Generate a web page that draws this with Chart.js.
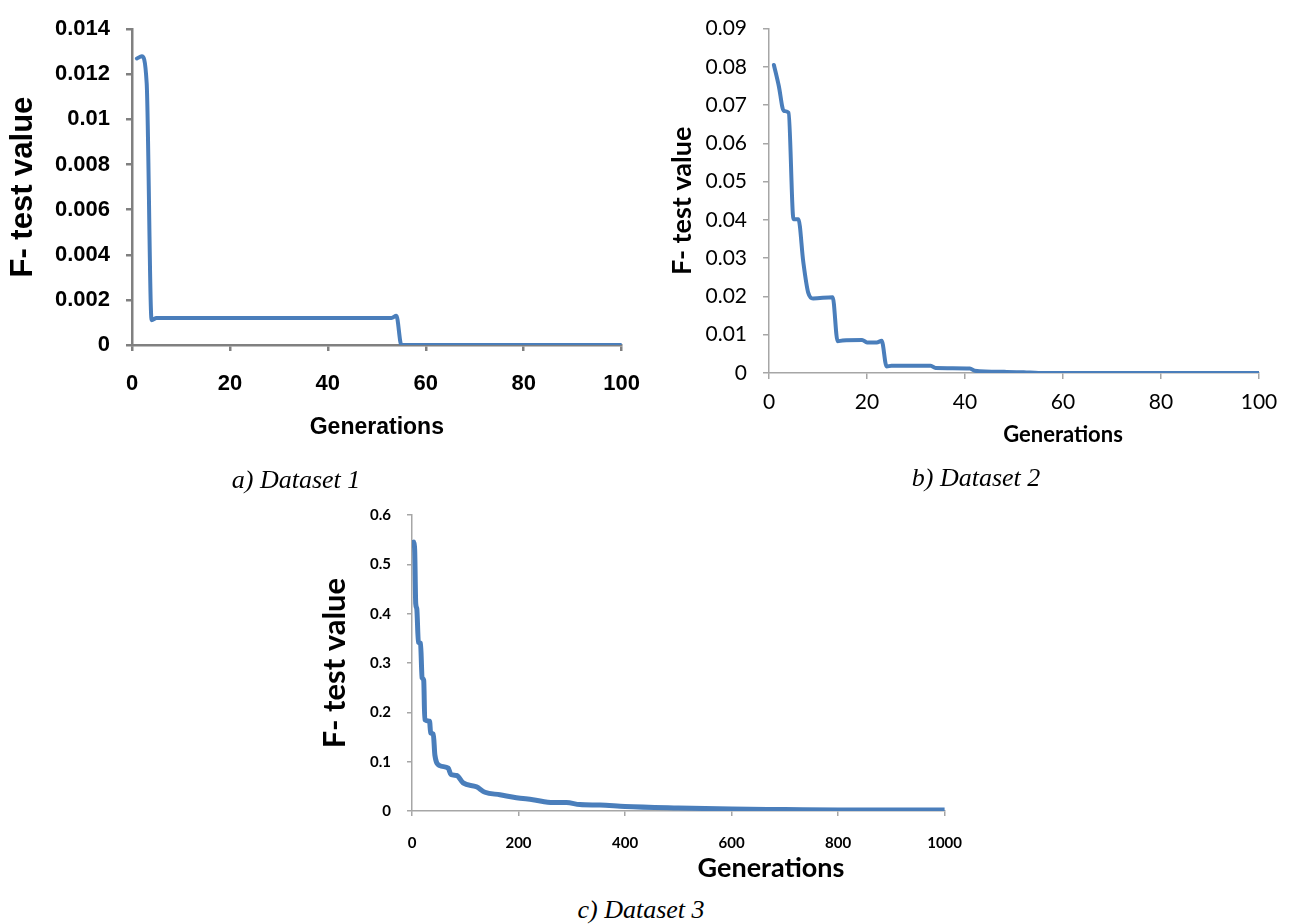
<!DOCTYPE html>
<html>
<head>
<meta charset="utf-8">
<title>F-test value vs generations</title>
<script src="https://cdn.jsdelivr.net/npm/chart.js@4.4.1/dist/chart.umd.min.js"></script>
<style>
    body {
        margin: 0;
        width: 1289px;
        height: 924px;
        position: relative;
        overflow: hidden;
        background: #fff;
    }
    canvas { position: absolute; }
    .label {
        position: absolute;
        transform: translate(-50%, -50%);
        white-space: nowrap;
        color: #000;
    }
    .caption {
        font-family: 'Liberation Serif', 'Times New Roman', serif;
        font-style: italic;
        font-size: 26px;
    }
    .axis-title {
        font-family: Lato, 'Open Sans', sans-serif;
        font-weight: bold;
    }
</style>
</head>
<body>
<canvas id="chart-a" width="660" height="445" style="left:0;top:0"></canvas>
<canvas id="chart-b" width="629" height="445" style="left:660px;top:0"></canvas>
<canvas id="chart-c" width="680" height="400" style="left:300px;top:490px"></canvas>

<div class="label axis-title" style="left:1063px;top:433px;font-size:22px">Generations</div>
<div class="label axis-title" style="left:771px;top:866px;font-size:27px">Generations</div>

<div class="label caption" style="left:296px;top:480px">a) Dataset 1</div>
<div class="label caption" style="left:976px;top:478px">b) Dataset 2</div>
<div class="label caption" style="left:641px;top:910px">c) Dataset 3</div>

<script>
// Dataset 1 (100 generations)
const GEN_A = [1, 2, 3, 4, 5, 6, 30, 53, 54, 55, 56, 100];
const FTEST_A = [0.0127, 0.0128, 0.0116, 0.0011, 0.0012, 0.0012, 0.0012, 0.0012, 0.0013, 0.0000, 0.0000, 0.0000];

// Dataset 2 (100 generations)
const GEN_B = [1, 2, 3, 4, 5, 6, 7, 8, 9, 13, 14, 15, 19, 20, 22, 23, 24, 25, 33, 34, 41, 42, 48, 52, 55, 100];
const FTEST_B = [0.0805, 0.0750, 0.0685, 0.0680, 0.0402, 0.0402, 0.0290, 0.0210, 0.0195, 0.0198, 0.0083, 0.0085, 0.0086, 0.0080, 0.0080, 0.0084, 0.0017, 0.0019, 0.0019, 0.0013, 0.0012, 0.0006, 0.0003, 0.0002, 0.0000, 0.0000];

// Dataset 3 (1000 generations)
const GEN_C = [3, 5, 7, 9, 12, 16, 19, 22, 24, 33, 35, 40, 43, 52, 68, 73, 84, 96, 121, 137, 165, 196, 227, 265, 290, 315, 353, 400, 500, 600, 700, 800, 900, 1000];
const FTEST_C = [0.545, 0.530, 0.420, 0.410, 0.342, 0.340, 0.270, 0.265, 0.185, 0.182, 0.158, 0.156, 0.113, 0.092, 0.087, 0.074, 0.072, 0.057, 0.049, 0.038, 0.033, 0.027, 0.023, 0.017, 0.017, 0.013, 0.012, 0.009, 0.006, 0.004, 0.003, 0.002, 0.002, 0.002];

const LINE_COLOR = '#4a7ebb';

/**
 * Build a line chart config for one panel.
 */
function panelConfig(gens, values, p) {
    const points = gens.map((g, i) => ({ x: g, y: values[i] }));
    return {
        type: 'line',
        data: {
            datasets: [{
                data: points,
                borderColor: LINE_COLOR,
                borderWidth: p.lineWidth,
                pointRadius: 0,
                cubicInterpolationMode: 'monotone',
                borderJoinStyle: 'round',
                borderCapStyle: 'round',
                fill: false
            }]
        },
        options: {
            responsive: false,
            animation: false,
            devicePixelRatio: 1,
            layout: { padding: p.padding },
            plugins: {
                legend: { display: false },
                tooltip: { enabled: false }
            },
            scales: {
                x: {
                    type: 'linear',
                    min: 0,
                    max: p.xMax,
                    afterFit: (scale) => { scale.height = p.xHeight; },
                    border: { display: true, color: p.axisColor, width: p.axisWidth },
                    grid: {
                        display: true,
                        drawOnChartArea: false,
                        tickLength: p.tickLength,
                        tickColor: p.axisColor,
                        lineWidth: p.axisWidth
                    },
                    ticks: {
                        stepSize: p.xStep,
                        padding: p.xPad,
                        maxRotation: 0,
                        color: '#000',
                        font: p.tickFont,
                        callback: (v) => String(v)
                    },
                    title: p.xTitle
                },
                y: {
                    min: 0,
                    max: p.yMax,
                    afterFit: (scale) => { scale.width = p.yWidth; },
                    border: { display: true, color: p.axisColor, width: p.axisWidth },
                    grid: {
                        display: true,
                        drawOnChartArea: false,
                        tickLength: p.tickLength,
                        tickColor: p.axisColor,
                        lineWidth: p.axisWidth
                    },
                    ticks: {
                        stepSize: p.yStep,
                        padding: p.yPad,
                        color: '#000',
                        font: p.tickFont,
                        callback: (v) => String(Number(v.toFixed(p.yDecimals)))
                    },
                    title: {
                        display: true,
                        text: 'F- test value',
                        color: '#000',
                        font: p.yTitleFont,
                        padding: { top: p.yTitlePad, bottom: 0 }
                    }
                }
            }
        }
    };
}

new Chart(document.getElementById('chart-a'), panelConfig(GEN_A, FTEST_A, {
    lineWidth: 4,
    padding: { top: 24, right: 37, left: 0, bottom: 0 },
    xMax: 100, xStep: 20, xHeight: 100, xPad: 20,
    yMax: 0.014, yStep: 0.002, yWidth: 132, yPad: 16, yDecimals: 3,
    axisColor: '#808080', axisWidth: 2.5, tickLength: 6,
    tickFont: { family: "'Liberation Sans', Arial, sans-serif", size: 22, weight: 'bold' },
    yTitleFont: { family: "'Liberation Sans', Arial, sans-serif", size: 31, weight: 'bold' },
    yTitlePad: 5,
    xTitle: {
        display: true,
        text: 'Generations',
        color: '#000',
        font: { family: "'Liberation Sans', Arial, sans-serif", size: 23, weight: 'bold' },
        padding: { top: 0, bottom: 4 }
    }
}));

new Chart(document.getElementById('chart-b'), panelConfig(GEN_B, FTEST_B, {
    lineWidth: 4,
    padding: { top: 18, right: 30, left: 0, bottom: 0 },
    xMax: 100, xStep: 20, xHeight: 72, xPad: 11,
    yMax: 0.09, yStep: 0.01, yWidth: 109, yPad: 16, yDecimals: 2,
    axisColor: '#a6a6a6', axisWidth: 1.5, tickLength: 6,
    tickFont: { family: 'Lato, sans-serif', size: 21, weight: 'normal' },
    yTitleFont: { family: 'Lato, sans-serif', size: 27, weight: 'bold' },
    yTitlePad: 6,
    xTitle: { display: false }
}));

new Chart(document.getElementById('chart-c'), panelConfig(GEN_C, FTEST_C, {
    lineWidth: 5,
    padding: { top: 15, right: 35, left: 0, bottom: 0 },
    xMax: 1000, xStep: 200, xHeight: 79, xPad: 18,
    yMax: 0.6, yStep: 0.1, yWidth: 112, yPad: 16, yDecimals: 1,
    axisColor: '#a6a6a6', axisWidth: 1.5, tickLength: 5,
    tickFont: { family: 'Lato, sans-serif', size: 15, weight: 'bold' },
    yTitleFont: { family: 'Lato, sans-serif', size: 31, weight: 'bold' },
    yTitlePad: 16,
    xTitle: { display: false }
}));
</script>
</body>
</html>
